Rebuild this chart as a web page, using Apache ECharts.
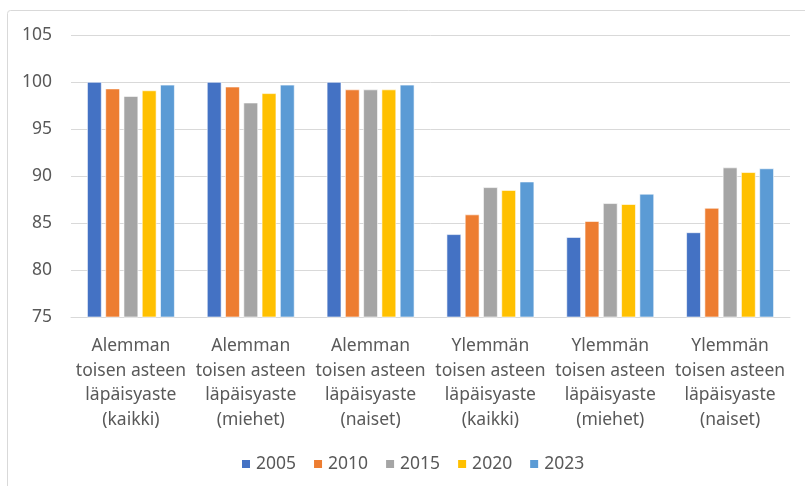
<!DOCTYPE html>
<html>
<head>
<meta charset="utf-8">
<script src="https://cdn.jsdelivr.net/npm/echarts@6/dist/echarts.min.js"></script>
<style>html,body{margin:0;padding:0;background:#fff;}#c{width:805px;height:486px;}</style>
</head>
<body>
<div id="c"></div>
<script>
const categories = [
  "Alemman\ntoisen asteen\nläpäisyaste\n(kaikki)",
  "Alemman\ntoisen asteen\nläpäisyaste\n(miehet)",
  "Alemman\ntoisen asteen\nläpäisyaste\n(naiset)",
  "Ylemmän\ntoisen asteen\nläpäisyaste\n(kaikki)",
  "Ylemmän\ntoisen asteen\nläpäisyaste\n(miehet)",
  "Ylemmän\ntoisen asteen\nläpäisyaste\n(naiset)"
];
const years = ["2005", "2010", "2015", "2020", "2023"];
const v2005 = [100, 100, 100, 83.8, 83.5, 84.0];
const v2010 = [99.3, 99.5, 99.2, 85.9, 85.2, 86.6];
const v2015 = [98.5, 97.8, 99.2, 88.8, 87.1, 90.9];
const v2020 = [99.1, 98.8, 99.2, 88.5, 87.0, 90.4];
const v2023 = [99.7, 99.7, 99.7, 89.4, 88.1, 90.8];
const yTicks = { min: 75, max: 105, interval: 5 };

const seriesValues = [v2005, v2010, v2015, v2020, v2023];
const colors = ["#4472C4", "#ED7D31", "#A5A5A5", "#FFC000", "#5B9BD5"];
const font = "'Noto Sans', 'Open Sans', sans-serif";
const chart = echarts.init(document.getElementById('c'), null, { renderer: 'canvas' });
chart.setOption({
  animation: false,
  backgroundColor: '#fff',
  color: colors,
  graphic: [{
    type: 'rect',
    shape: { x: 7.5, y: 10.5, width: 820, height: 500, r: 3 },
    style: { fill: 'none', stroke: '#D9D9D9', lineWidth: 1 },
    silent: true, z: -1
  }],
  grid: { left: 71, right: 15, top: 35, bottom: 169, containLabel: false },
  legend: {
    data: years,
    top: 450,
    left: 235,
    itemWidth: 10, itemHeight: 10, itemGap: 16,
    icon: 'rect',
    textStyle: { color: '#595959', fontSize: 17.5, fontFamily: font }
  },
  xAxis: {
    type: 'category',
    data: categories,
    axisLine: { show: true, lineStyle: { color: '#D9D9D9', width: 1 } },
    axisTick: { show: false },
    axisLabel: { color: '#595959', fontSize: 17.5, fontFamily: font, lineHeight: 24.5, margin: 17, interval: 0 }
  },
  yAxis: {
    type: 'value',
    min: yTicks.min, max: yTicks.max, interval: yTicks.interval,
    axisLine: { show: false },
    axisTick: { show: false },
    splitLine: { lineStyle: { color: '#D9D9D9', width: 1 } },
    axisLabel: { color: '#595959', fontSize: 17.5, fontFamily: font, margin: 19 }
  },
  series: seriesValues.map((vals, i) => ({
    name: years[i],
    type: 'bar',
    data: vals,
    barWidth: 14.5,
    barGap: '26%',
    itemStyle: { color: colors[i], borderColor: '#fff', borderWidth: 0.6 }
  }))
});
</script>
</body>
</html>
